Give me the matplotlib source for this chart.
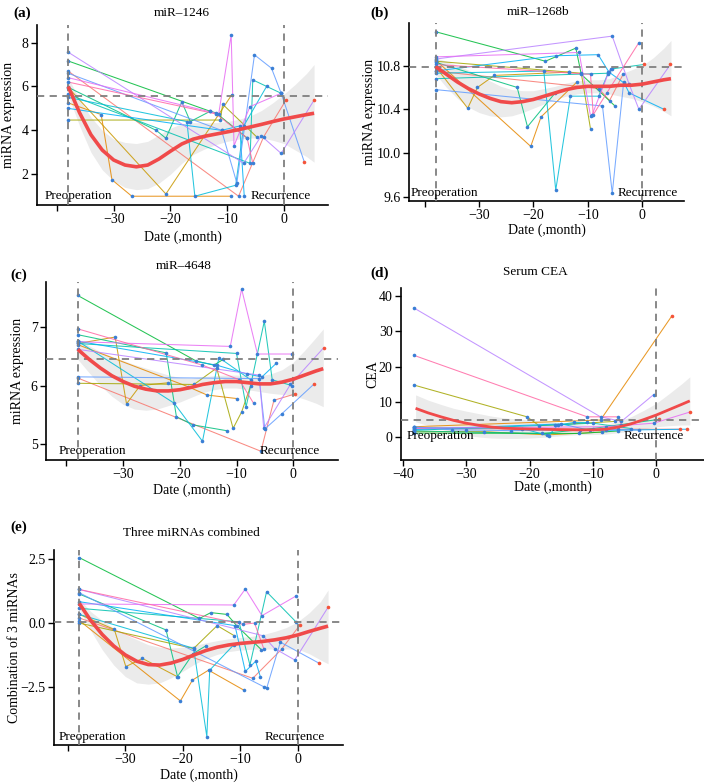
import matplotlib
matplotlib.use("Agg")
import matplotlib.pyplot as plt

plt.rcParams['font.family'] = ['Liberation Serif', 'DejaVu Serif']

#---------------------------------------------
'''DATA (read off the figure)'''
#---------------------------------------------
# patient trajectories: time (month, 0 = recurrence) and value
a_t = [[-38, -8.0, -3.6, 0.4], [-38, -32.2, -30.3, -26.8, -9.4], [-38, -20.8, -9.2],
       [-38, -11.2, -10.8, -4.8], [-38, -13.0, -12.0, -6.5], [-38, -22.5, -20.8, -18.0, -16.5, -13.0],
       [-38, -6.0, -5.5, -0.5], [-38, -17.1, -15.7, -8.5, -7.1, -3.0], [-38, -11.0, -7.8, -7.0],
       [-38, -11.0, -8.3, -5.2, -2.2, -0.5, 3.6], [-38, -7.1, -4.0, -0.5, 5.3],
       [-38, -11.5, -9.3, -8.8, -6.0, -0.5], [-38, -12.0, -6.5, -5.5]]
a_v = [[6.7, 1.0, 3.7, 5.4], [5.25, 4.72, 1.75, 1.0, 1.0], [5.95, 1.1, 5.62],
       [4.47, 4.47, 5.19, 3.7], [7.16, 4.87, 4.8, 3.65], [5.96, 4.0, 3.64, 5.3, 4.4, 4.87],
       [5.64, 2.5, 6.3, 5.69], [5.5, 4.4, 1.0, 1.5, 4.2, 6.03], [5.0, 4.0, 4.2, 1.0],
       [6.6, 4.0, 1.6, 7.44, 6.83, 5.69, 2.54], [7.56, 2.5, 3.75, 2.95, 5.38],
       [6.4, 4.75, 8.35, 3.3, 5.08, 5.69], [6.2, 4.75, 3.65, 2.5]]

b_t = [[-38, -8.0, -6.0, -3.5], [-38, -20.5, -18.6, -12.0], [-38, -32.1, -30.3, -27.2, -13.5],
       [-38, -13.5, -11.2, -9.5], [-38, -17.8, -12.2, -11.2, -5.0], [-38, -23.0, -21.1, -16.0],
       [-38, -6.3, -5.5, 0.3], [-38, -18.1, -15.9, -13.2, -8.0, -6.2],
       [-38, -15.9, -8.1, -6.1, -3.3, -2.4, 4.0], [-38, -7.3, -5.5, -3.4],
       [-38, -5.5, -2.4, -0.6, 5.2], [-38, -11.6, -9.5, -9.2, -6.3, -5.8], [-38, -9.5, -9.0, -6.5, -0.6]]
b_v = [[10.75, 10.59, 10.48, 10.72], [10.85, 10.06, 10.33, 10.65], [10.79, 10.41, 10.6, 10.71, 10.74],
       [10.84, 10.74, 10.73, 10.22], [11.11, 10.84, 10.96, 10.72, 10.43], [10.83, 10.6, 10.24, 10.55],
       [10.68, 10.73, 10.77, 10.81], [10.73, 10.75, 9.66, 10.52, 10.52, 10.74],
       [10.75, 10.89, 10.9, 10.74, 10.64, 10.55, 10.4], [10.58, 10.43, 9.63, 10.65],
       [10.86, 11.07, 10.63, 10.4, 10.81], [10.88, 10.92, 10.34, 10.35, 10.72, 10.77],
       [10.81, 10.72, 10.35, 10.55, 11.01]]

c_t = [[-38, -5.7, -3.4, 0.4], [-38, -18.5, -15.2, -10.0], [-38, -31.4, -29.4, -27.0, -22.0],
       [-38, -17.5, -13.5, -10.6, -9.1, -7.5], [-38, -17.1, -14.0, -12.3],
       [-38, -22.4, -20.6, -17.7, -11.7], [-38, -10.0, -8.3, -5.1, -3.7, -0.2],
       [-38, -21.0, -16.0, -13.1, -7.5], [-38, -13.5, -8.2, -5.5, -3.0],
       [-38, -6.0, -5.0, -2.0, 3.7], [-38, -6.0, -5.2, -0.5, 5.4],
       [-38, -11.1, -9.1, -6.3, -0.3], [-38, -16.0, -9.5, -7.0]]
c_v = [[6.13, 4.88, 5.75, 5.86], [6.7, 5.98, 5.84, 5.78], [6.72, 6.83, 5.69, 6.0, 6.05],
       [6.04, 6.02, 6.3, 5.27, 5.55, 6.0], [7.54, 6.42, 6.35, 6.45],
       [6.87, 6.56, 5.47, 5.33, 5.23], [6.72, 6.55, 5.64, 7.1, 6.1, 6.0],
       [6.76, 5.7, 5.05, 6.48, 6.1], [6.76, 6.35, 6.2, 6.15, 6.38],
       [6.15, 6.12, 5.26, 5.52, 6.03], [6.62, 6.18, 5.27, 6.02, 6.65],
       [6.75, 6.67, 7.65, 6.54, 6.54], [6.97, 6.35, 6.1, 5.7]]

d_t = [[-38.3, -6.0, 3.8], [-38.3, -8.8, 2.5], [-38.3, -27.2, -17.2, -8.5],
       [-38.3, -20.4, -18.5, -6.5], [-38.3, -12.2, -6.0], [-38.3, -18.0, -10.0, 0.5],
       [-38.3, -16.0, -10.0, -4.0], [-38.3, -21.2, -17.0, -15.5, -13.0, -11.0],
       [-38.3, -15.0, -10.5, -8.0, 4.9], [-38.3, -32.2, -30.1, -23.0, -12.0, -2.7],
       [-38.3, -8.8, -5.5, -0.4], [-38.3, -8.0, -0.4, 5.4], [-38.3, -10.9, -6.0, -5.5]]
d_v = [[2.5, 2.3, 2.3], [3.0, 4.9, 34.4], [1.6, 1.6, 0.7, 1.5],
       [14.8, 5.8, 3.3, 4.5], [1.2, 1.1, 1.8], [1.8, 1.1, 2.5, 5.1],
       [2.0, 3.5, 4.0, 2.5], [2.8, 2.5, 0.5, 3.5, 4.2, 4.2],
       [2.2, 3.8, 2.0, 2.0, 2.3], [3.0, 2.1, 2.1, 1.9, 2.2, 2.1],
       [36.6, 5.8, 4.5, 12.1], [2.6, 3.0, 4.0, 7.2], [23.2, 5.8, 5.8, 3.5]]

e_t = [[-38, -7.8, -2.8, 0.4], [-38, -20.4, -18.3, -15.5, -9.4], [-38, -31.9, -29.9, -27.0, -21.0],
       [-38, -18.1, -14.0, -11.0], [-38, -17.1, -15.1, -12.3, -10.6, -6.3],
       [-38, -22.9, -20.9, -18.2, -16.0], [-38, -10.2, -8.3, -5.4, -0.3],
       [-38, -18.1, -15.8, -15.3, -11.1], [-38, -10.9, -9.1, -7.3, -6.5],
       [-38, -5.9, -5.4, -3.0, 3.75], [-38, -6.0, -4.0, -0.5, 5.3],
       [-38, -11.1, -9.1, -6.2, -0.3], [-38, -9.5, -7.5, -5.9]]
e_v = [[0.2, -2.17, -1.03, -0.08], [0.1, -3.06, -2.24, -1.85, -2.63], [0.34, -0.25, -1.71, -1.39, -2.1],
       [0.0, -1.0, -0.1, -0.5], [2.57, 0.18, 0.41, 0.34, -0.1, -1.05],
       [1.14, -0.27, -2.1, -1.2, -0.9], [0.58, 0.05, -1.65, 1.23, 0.05],
       [0.34, -0.99, -4.46, -1.85, -0.85], [0.84, -0.1, -1.9, -1.5, -2.1],
       [1.19, -2.5, -2.57, -0.75, -1.58], [1.32, -0.5, -1.0, -1.45, 0.62],
       [0.75, 0.71, 1.34, 0.29, 1.06], [1.32, -0.05, 0.0, -1.0]]

# loess fit + 95% band
fit_x = [-38, -36, -34, -32, -30, -28, -26, -24, -22, -20, -18, -16, -14, -12, -10, -8, -6, -4, -2, 0, 2, 4, 5.3]
a_fit = [6.0, 4.8, 3.8, 3.1, 2.65, 2.42, 2.34, 2.42, 2.7, 3.05, 3.38, 3.6, 3.73, 3.83, 3.93, 4.03, 4.15, 4.27, 4.4, 4.52, 4.62, 4.72, 4.78]
a_lo = [5.6, 4.2, 3.0, 2.2, 1.7, 1.4, 1.3, 1.35, 1.6, 2.0, 2.5, 2.9, 3.15, 3.35, 3.5, 3.6, 3.65, 3.65, 3.55, 3.4, 3.1, 2.8, 2.55]
a_hi = [6.4, 5.4, 4.6, 4.0, 3.6, 3.45, 3.4, 3.5, 3.8, 4.1, 4.3, 4.35, 4.35, 4.35, 4.4, 4.5, 4.65, 4.9, 5.25, 5.65, 6.1, 6.6, 7.0]
b_fit = [10.79, 10.72, 10.65, 10.59, 10.54, 10.5, 10.47, 10.46, 10.47, 10.49, 10.52, 10.55, 10.58, 10.6, 10.61, 10.61, 10.61, 10.62, 10.62, 10.63, 10.65, 10.67, 10.68]
b_lo = [10.72, 10.6, 10.5, 10.42, 10.37, 10.34, 10.33, 10.34, 10.37, 10.41, 10.45, 10.49, 10.52, 10.54, 10.55, 10.55, 10.54, 10.52, 10.5, 10.47, 10.43, 10.38, 10.34]
b_hi = [10.87, 10.84, 10.8, 10.76, 10.71, 10.66, 10.61, 10.58, 10.57, 10.57, 10.59, 10.61, 10.64, 10.66, 10.67, 10.67, 10.68, 10.72, 10.76, 10.8, 10.87, 10.96, 11.03]
c_fit = [6.62, 6.45, 6.3, 6.17, 6.07, 5.99, 5.94, 5.91, 5.91, 5.93, 5.97, 6.02, 6.05, 6.07, 6.07, 6.05, 6.03, 6.03, 6.06, 6.11, 6.18, 6.25, 6.29]
c_lo = [6.45, 6.22, 6.0, 5.82, 5.68, 5.6, 5.58, 5.6, 5.66, 5.72, 5.8, 5.88, 5.93, 5.96, 5.96, 5.93, 5.9, 5.87, 5.85, 5.83, 5.77, 5.7, 5.64]
c_hi = [6.8, 6.68, 6.58, 6.5, 6.43, 6.36, 6.3, 6.24, 6.18, 6.14, 6.13, 6.15, 6.17, 6.18, 6.18, 6.17, 6.17, 6.2, 6.27, 6.4, 6.6, 6.82, 6.97]
d_fit = [8.2, 6.9, 5.8, 4.8, 4.0, 3.4, 2.9, 2.6, 2.45, 2.35, 2.3, 2.2, 2.15, 2.1, 2.1, 2.3, 2.9, 3.8, 5.0, 6.3, 7.8, 9.3, 10.3]
d_lo = [4.4, 3.3, 2.3, 1.4, 0.6, 0.1, -0.2, -0.3, -0.3, -0.2, 0.0, 0.3, 0.6, 0.8, 0.8, 0.9, 1.3, 1.8, 2.4, 3.0, 3.3, 3.5, 3.5]
d_hi = [12.0, 10.5, 9.3, 8.2, 7.4, 6.7, 6.0, 5.5, 5.2, 4.9, 4.6, 4.2, 3.9, 3.6, 3.5, 3.7, 4.5, 5.8, 7.6, 9.6, 12.3, 15.1, 17.1]
e_fit = [0.77, 0.1, -0.45, -0.9, -1.25, -1.5, -1.63, -1.65, -1.57, -1.43, -1.25, -1.08, -0.95, -0.86, -0.8, -0.76, -0.72, -0.66, -0.58, -0.47, -0.33, -0.2, -0.12]
e_lo = [0.55, -0.3, -1.05, -1.65, -2.1, -2.35, -2.4, -2.35, -2.15, -1.9, -1.62, -1.4, -1.23, -1.12, -1.06, -1.03, -1.02, -1.02, -1.02, -1.02, -1.2, -1.45, -1.6]
e_hi = [0.95, 0.45, 0.1, -0.2, -0.45, -0.65, -0.85, -0.95, -0.98, -0.95, -0.88, -0.78, -0.69, -0.62, -0.57, -0.52, -0.45, -0.33, -0.18, 0.05, 0.4, 0.85, 1.3]

# cut-off (horizontal dashed line) per panel
cutoffs = [5.55, 10.79, 6.46, 4.9, 0.05]
titles = ['miR\u20131246', 'miR\u20131268b', 'miR\u20134648', 'Serum CEA', 'Three miRNAs combined']
panel_tags = ['(a)', '(b)', '(c)', '(d)', '(e)']
ylabels = ['miRNA expression', 'miRNA expression', 'miRNA expression', 'CEA', 'Combination of 3 miRNAs']
yticks = [[2, 4, 6, 8], [9.6, 10.0, 10.4, 10.8], [5, 6, 7], [0, 10, 20, 30, 40], [-2.5, 0.0, 2.5]]
yticklabels = [['2', '4', '6', '8'], ['9.6', '10.0', '10.4', '10.8'], ['5', '6', '7'],
               ['0', '10', '20', '30', '40'], ['\u22122.5', '0.0', '2.5']]

#---------------------------------------------
'''PLOTTING'''
#---------------------------------------------
W, H = 704, 784
fig = plt.figure(figsize=(W / 100, H / 100), dpi=100)

pal = ['#F8766D', '#E58700', '#C99800', '#A3A500', '#00BA38', '#00BF7D', '#00C0AF',
       '#00BCD8', '#00B0F6', '#619CFF', '#B983FF', '#E76BF3', '#FF67A4']

# pixel boxes (left, top, right, bottom), axis limits, label positions
boxes = [(37, 25, 328, 205), (409, 23, 684, 201), (46, 282, 338, 460), (401, 288, 705, 460), (54, 550, 343, 745)]
xlims = [(-43.5, 7.75), (-42.9, 7.7), (-43.6, 7.9), (-40.3, 7.7), (-42.4, 7.9)]
ylims = [(0.6, 8.8), (9.56, 11.19), (4.73, 7.77), (-6.4, 42.2), (-4.79, 2.87)]
title_xy = [(182, 13), (538, 12), (184, 266), (535, 272), (191, 533)]
tag_xy = [(13, 13), (370, 13), (10, 275), (370, 273), (10, 527)]
ylab_x = [9, 370, 18, 373, 15]
xlab_y = [237, 230, 490, 487, 775]
preop_x = [-36.2, -36.3, -35.4, -34.0, -35.7]
recur_x = [-0.5, 1.0, -0.6, -0.4, -0.5]

panels = [(a_t, a_v, a_fit, a_lo, a_hi), (b_t, b_v, b_fit, b_lo, b_hi), (c_t, c_v, c_fit, c_lo, c_hi),
          (d_t, d_v, d_fit, d_lo, d_hi), (e_t, e_v, e_fit, e_lo, e_hi)]

dash = (0, (4, 3))
for k, (ts, vs, fit, lo, hi) in enumerate(panels):
    L, T, R, B = boxes[k]
    ax = fig.add_axes([L / W, 1 - B / H, (R - L) / W, (B - T) / H])
    ax.set_xlim(*xlims[k])
    ax.set_ylim(*ylims[k])

    # smooth band under everything
    ax.fill_between(fit_x, lo, hi, color='#EBEBEB', lw=0, zorder=1)

    # patient lines and points
    for i, (t, v) in enumerate(zip(ts, vs)):
        ax.plot(t, v, color=pal[i % len(pal)], lw=0.75, alpha=0.85, zorder=2)
        pre_t = [x for x in t if x <= 0]
        pre_v = [y for x, y in zip(t, v) if x <= 0]
        post_t = [x for x in t if x > 0]
        post_v = [y for x, y in zip(t, v) if x > 0]
        ax.plot(pre_t, pre_v, 'o', ms=2.6, color='#3A7FD5', mec='none', zorder=3)
        ax.plot(post_t, post_v, 'o', ms=2.6, color='#F4533A', mec='none', zorder=3)

    # reference lines
    ax.axhline(cutoffs[k], color='#7F7F7F', lw=1.3, ls=dash, zorder=3)
    ax.axvline(0, color='#7F7F7F', lw=1.3, ls=dash, zorder=3)
    if k != 3:
        ax.axvline(ts[0][0], color='#7F7F7F', lw=1.3, ls=dash, zorder=3)

    # loess line
    ax.plot(fit_x, fit, color='#F04A4A', lw=2.6 if k != 3 else 2.0, zorder=4, solid_capstyle='butt')

    # annotations at the lowest observed value
    ymin = min(min(v) for v in vs)
    ax.text(preop_x[k], ymin, 'Preoperation', fontsize=9.5, ha='center', va='center', zorder=5)
    ax.text(recur_x[k], ymin, 'Recurrence', fontsize=9.5, ha='center', va='center', zorder=5)

    # axes style
    for s in ['top', 'right']:
        ax.spines[s].set_visible(False)
    for s in ['left', 'bottom']:
        ax.spines[s].set_linewidth(1.2)
    ax.tick_params(direction='out', length=4, width=1.0, labelsize=10, pad=2)
    ax.set_xticks([-40, -30, -20, -10, 0])
    if k == 3:
        ax.set_xticklabels(['\u221240', '\u221230', '\u221220', '\u221210', '0'])
    else:
        ax.set_xticklabels(['', '\u221230', '\u221220', '\u221210', '0'])
    ax.set_yticks(yticks[k])
    ax.set_yticklabels(yticklabels[k])

    # texts in pixel positions
    fig.text(title_xy[k][0] / W, 1 - title_xy[k][1] / H, titles[k], fontsize=9.5, ha='center', va='center')
    fig.text(tag_xy[k][0] / W, 1 - tag_xy[k][1] / H, panel_tags[k], fontsize=11, fontweight='bold',
             ha='left', va='center')
    fig.text(ylab_x[k] / W, 1 - ((T + B) / 2) / H, ylabels[k], fontsize=10, rotation=90,
             ha='center', va='center')
    fig.text(((L + R) / 2) / W, 1 - xlab_y[k] / H, 'Date (,month)', fontsize=10, ha='center', va='center')

fig.savefig('out.png', dpi=100)
